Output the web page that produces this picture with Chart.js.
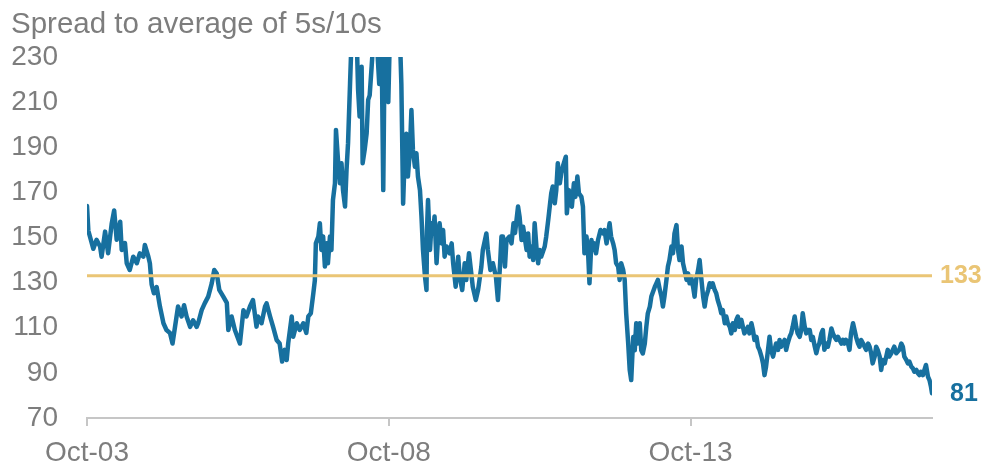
<!DOCTYPE html>
<html>
<head>
<meta charset="UTF-8">
<title>Spread to average of 5s/10s</title>
<style>
  html, body { margin: 0; padding: 0; background: #ffffff; }
  #wrap { width: 981px; height: 466px; position: relative; }
</style>
</head>
<body>
<div id="wrap"><canvas id="spreadChart" width="981" height="466"></canvas></div>

<script src="https://cdn.jsdelivr.net/npm/chart.js"></script>
<script>
// months after Oct-2003 for each observation
const months = [
  0, 0.27, 1.26, 1.9, 2.6, 2.9, 3.6, 4.2, 4.9, 5.4, 5.9, 6.6, 6.9, 7.55, 7.9, 8.5, 9.2, 9.9, 10.5, 11.2,
  11.5, 12.2, 12.5, 12.85, 13.3, 13.85, 14.5, 15.2, 15.8, 16.5, 17, 17.5, 18.1, 18.8, 19.3, 19.8, 20.5, 21.1, 21.8, 22.1,
  22.8, 23.4, 24.1, 24.8, 25.3, 25.8, 26.3, 27.1, 27.8, 28.1, 28.75, 29.4, 30.4, 31.1, 31.7, 32.4, 33.0, 33.7, 34.0, 34.7,
  35.4, 35.7, 36.4, 37.0, 37.7, 38.3, 38.8, 39.3, 39.7, 40.0, 40.7, 41.0, 41.7, 42.3, 43.0, 43.6, 44.0, 44.5, 45.0, 45.3,
  45.5, 46.0, 46.3, 46.6, 46.95, 47.3, 47.6, 47.9, 48.3, 48.6, 48.9, 49.3, 49.5, 49.9, 50.3, 50.6, 50.9, 51.3, 51.6, 51.9,
  52.3, 52.6, 53.6, 53.9, 54.2, 54.6, 54.8, 55.2, 55.6, 55.9, 56.2, 56.6, 57.0, 57.6, 58.1, 58.55, 58.9, 59.2, 59.9, 60.2,
  60.9, 61.5, 62.2, 62.5, 62.85, 63.2, 63.5, 63.8, 64.2, 64.5, 64.8, 65.2, 65.5, 65.8, 66.2, 66.5, 66.8, 67.2, 67.5, 67.6,
  67.8, 68.2, 68.5, 68.8, 69.1, 69.5, 69.8, 70.1, 70.5, 70.8, 71.1, 71.5, 72.1, 72.5, 72.8, 73.3, 73.8, 74.1, 74.6, 75.1,
  75.4, 75.95, 76.4, 76.7, 77.3, 77.75, 78.4, 78.7, 79.4, 79.7, 80.2, 80.7, 81.3, 81.7, 82.1, 82.4, 82.7, 83.1, 83.4, 84.0,
  84.4, 84.8, 85.1, 85.7, 86.0, 86.4, 86.7, 87.0, 87.4, 87.7, 88.0, 88.4, 88.7, 89.0, 89.4, 89.7, 90.0, 90.3, 91.0, 91.3,
  91.7, 92.0, 92.3, 92.6, 93.0, 93.3, 93.6, 94.0, 94.3, 94.6, 95.0, 95.2, 95.4, 95.8, 96.1, 96.4, 96.8, 97.1, 97.5, 97.8,
  98.3, 98.6, 98.9, 99.3, 99.6, 99.9, 100.3, 100.6, 100.9, 101.2, 101.6, 102.1, 102.6, 102.9, 103.3, 103.9, 104.2, 104.6, 104.9, 105.2,
  105.6, 105.9, 106.2, 106.6, 106.9, 107.2, 107.6, 107.9, 108.2, 108.6, 108.9, 109.2, 109.5, 109.9, 110.2, 110.5, 110.9, 111.2, 111.5, 111.9,
  112.2, 112.9, 113.2, 113.5, 113.9, 114.2, 114.5, 114.8, 115.2, 115.5, 115.8, 116.2, 116.5, 116.8, 117.2, 117.5, 117.8, 118.2, 118.5, 118.8,
  119.2, 119.5, 119.8, 120.1, 120.5, 120.8, 121.1, 121.5, 121.8, 122.1, 122.5, 122.8, 123.1, 123.5, 123.8, 124.1, 124.4, 124.8, 125.1, 125.4,
  125.8, 126.1, 126.4, 126.8, 127.1, 127.4, 127.8, 128.1, 128.4, 128.8, 129.1, 129.4, 129.7, 130.1, 130.4, 130.7, 131.1, 131.4, 131.7, 132.1,
  132.4, 132.7, 133.1, 133.4, 133.7, 134.1, 134.4, 134.7, 135.0, 135.4, 135.7, 136.0, 136.4, 136.7, 137.0, 137.4, 137.7, 138.0, 138.3, 138.7,
  139.0, 139.3, 139.7, 140.0, 140.3, 140.7, 141.0, 141.3, 141.7, 142.0, 142.3, 142.7, 143.0, 143.3, 143.7, 144.0, 144.3, 144.7, 145.0, 145.3,
  145.6, 146.0, 146.3, 146.6, 147.0, 147.3, 147.6, 148.0, 148.3, 148.6, 149.0, 149.3, 149.6, 150.0, 150.3, 150.6, 150.9, 151.3, 151.6, 151.9,
  152.3, 152.6, 152.9, 153.3, 153.6, 153.9, 154.3, 154.6, 154.9, 155.3, 155.6, 155.9, 156.2, 156.6, 156.9, 157.2, 157.6, 157.9, 158.2, 158.6,
  158.9, 159.2, 159.5, 159.9, 160.2, 160.5, 160.9, 161.5, 161.9, 162.2, 162.5, 162.9, 163.2, 163.5, 163.9, 164.2, 164.5, 164.9, 165.2, 165.5,
  165.8, 166.2, 166.5, 166.8, 167.2, 167.5, 167.8, 168.0
];

// spread to the 5s/10s average, bp (values above 230 run off the top)
const spread = [
  164, 153, 145, 149, 146, 141.5, 152.6, 143, 156, 162, 149, 157, 144.5, 147.5, 138.6, 135.6, 141.5, 138.6, 143, 141.5,
  146.7, 141.5, 138.6, 129.2, 125.3, 128, 119.4, 112, 109, 107.7, 103, 110.4, 119.4, 115, 120, 115, 110.4, 113.3, 110.4, 112,
  117.8, 120.8, 123.8, 129.7, 135.6, 134, 126.8, 123.8, 121, 109, 115, 109, 103, 117.8, 115, 119.4, 122.3, 110.5, 115, 112,
  119.4, 120.8, 115, 110.4, 104.6, 103, 95, 100.2, 95.7, 103, 115, 106, 112, 109, 112, 107.7, 115, 116.4, 125.3, 131,
  147.4, 150.4, 156.3, 144.5, 150.4, 137.1, 147.4, 138.6, 150.4, 144.5, 166.6, 174, 197.7, 184.4, 174, 182.9, 171, 163.7, 180, 191.8,
  218.3, 238, 240, 215.4, 203.6, 225.7, 182.9, 188.8, 196.2, 211, 213, 226, 240, 238, 218, 240, 171, 240, 210, 238,
  242, 240, 240, 218, 165, 188.8, 196, 177, 188.8, 206.5, 188.8, 181.4, 187.3, 177, 171, 159.3, 144.5, 132.6, 126.7, 153.3,
  166.6, 144.5, 156.3, 151.8, 159.3, 138.6, 150.4, 156.3, 147.4, 153.3, 141.5, 146, 143, 147.4, 138.6, 128.2, 141.5, 132.6, 126.7, 138.6,
  131.2, 143, 134.1, 128.2, 122.3, 126.7, 137, 144.5, 151.8, 144.5, 135.6, 138.6, 132.6, 122.3, 137.1, 150.4, 150.4, 137.1, 148.9, 150.4,
  147.4, 156.3, 152, 163.7, 159.3, 148.9, 154.8, 150.4, 144.5, 151.8, 141.5, 146, 140, 156.3, 144.5, 138.6, 144.5, 141.5, 146, 150.4,
  157.8, 163.7, 169.6, 172.6, 165.2, 171, 182.9, 174, 178.5, 181.4, 184.4, 185.8, 160.7, 171, 165.2, 163.7, 174, 168, 177, 169.6,
  168, 163.7, 143, 150.4, 144.5, 129.7, 148.9, 144.5, 147.4, 143, 148.9, 153.3, 151.8, 153.3, 147.4, 156.3, 150.4, 147.4, 144.5, 138.6,
  137.1, 131.2, 138.6, 135.6, 131.2, 116.4, 103, 91.3, 86.8, 105.9, 100, 112, 103, 112, 100, 98.6, 103, 110.4, 116.4, 119.4,
  123.8, 128.2, 129.7, 131.2, 126.7, 124, 119.4, 123.8, 131.2, 137.1, 140, 146, 143, 151.8, 155.5, 144.5, 140, 146, 138.6, 135.6,
  131.2, 134.1, 129.7, 132.6, 128.2, 123.8, 131.2, 135.6, 140, 132.6, 123.8, 119.4, 123.8, 126.7, 129.7, 128.2, 129.7, 126.7, 125.3, 122.3,
  119.4, 116.4, 117.8, 112, 115, 112, 110.4, 107.5, 112, 109, 113.5, 115, 110.4, 113.5, 110.4, 107.5, 109, 110.4, 107.5, 112,
  109, 104.6, 106, 101.6, 100.2, 97.2, 94.2, 89, 92.7, 100.2, 106, 100.2, 97.2, 100.2, 103, 100.2, 104.6, 101.6, 103, 104.6,
  100.2, 103, 106, 107.5, 110.4, 115, 110.4, 107.5, 106, 109, 116.4, 110.4, 107.5, 109, 109, 104.6, 106, 101.6, 98.7, 101.6,
  103, 107.5, 109, 100.2, 103, 101.6, 104.6, 109.7, 107.5, 106, 104.6, 106, 104.6, 103, 104.6, 103, 104.6, 103, 100.2, 107.5,
  112, 109, 106, 103, 101.6, 104.6, 103, 101.6, 100.2, 103, 101.6, 98.7, 94.2, 97.2, 101.6, 100.2, 97.2, 91.3, 95.7, 94.2,
  97.2, 100.2, 97.2, 98.7, 100.2, 101.6, 98.7, 100.2, 103, 101.6, 97.2, 95.7, 94.2, 95, 92.7, 92, 90.5, 91.3, 89.8, 89,
  90.5, 89, 91.3, 93.5, 88.3, 86.8, 83.8, 81
];

const averageLevel = 133;
const tickMonths = [0, 60, 120];
const tickLabels = ['Oct-03', 'Oct-08', 'Oct-13'];
const yTicks = [70, 90, 110, 130, 150, 170, 190, 210, 230];

const blue = '#17709F';
const gold = '#EAC575';
const grey = '#7d7d7d';
const fontFamily = '"Liberation Sans", Arial, sans-serif';

const seriesPoints = months.map((m, i) => ({ x: m, y: spread[i] }));
const lastMonth = months[months.length - 1];
const avgPoints = [{ x: 0, y: averageLevel }, { x: lastMonth, y: averageLevel }];

// heading top-left, plus end labels for the average and the latest value
const annotations = {
  id: 'annotations',
  afterDraw(chart) {
    const { ctx, chartArea, scales } = chart;
    ctx.save();
    ctx.fillStyle = grey;
    ctx.font = '29.5px ' + fontFamily;
    ctx.textAlign = 'left';
    ctx.textBaseline = 'alphabetic';
    ctx.fillText('Spread to average of 5s/10s', 11, 33);

    ctx.font = 'bold 25px ' + fontFamily;
    ctx.textBaseline = 'middle';
    ctx.fillStyle = gold;
    ctx.fillText(String(averageLevel), chartArea.right + 8, scales.y.getPixelForValue(averageLevel));
    const last = spread[spread.length - 1];
    ctx.fillStyle = blue;
    ctx.fillText(String(last), chartArea.right + 18, scales.y.getPixelForValue(last) + 1);
    ctx.restore();
  }
};

new Chart(document.getElementById('spreadChart'), {
  type: 'line',
  data: {
    datasets: [
      {
        label: 'Average',
        data: avgPoints,
        borderColor: gold,
        borderWidth: 3,
        pointRadius: 0,
        order: 0,
        clip: 0
      },
      {
        label: 'Spread',
        data: seriesPoints,
        borderColor: blue,
        borderWidth: 4.5,
        borderJoinStyle: 'round',
        borderCapStyle: 'round',
        pointRadius: 0,
        tension: 0,
        order: 1,
        clip: 0
      }
    ]
  },
  options: {
    responsive: false,
    animation: false,
    events: [],
    layout: { padding: { top: 57, right: 49, left: 0, bottom: 0 } },
    plugins: {
      legend: { display: false },
      tooltip: { enabled: false }
    },
    scales: {
      x: {
        type: 'linear',
        min: 0,
        max: lastMonth,
        afterBuildTicks: (scale) => { scale.ticks = tickMonths.map(v => ({ value: v })); },
        afterFit: (scale) => { scale.height = 48; },
        ticks: {
          color: grey,
          font: { size: 28, family: fontFamily },
          padding: 10,
          maxRotation: 0,
          autoSkip: false,
          callback: (v) => tickLabels[tickMonths.indexOf(v)]
        },
        grid: { display: true, drawOnChartArea: false, drawTicks: true, tickLength: 8, color: '#c6c6c6', lineWidth: 2 },
        border: { display: true, color: '#c6c6c6', width: 2 }
      },
      y: {
        min: 70,
        max: 230,
        afterBuildTicks: (scale) => { scale.ticks = yTicks.map(v => ({ value: v })); },
        afterFit: (scale) => { scale.width = 87; },
        ticks: {
          color: grey,
          font: { size: 28, family: fontFamily },
          padding: 29
        },
        grid: { display: false, drawTicks: false },
        border: { display: false }
      }
    }
  },
  plugins: [annotations]
});
</script>
</body>
</html>
